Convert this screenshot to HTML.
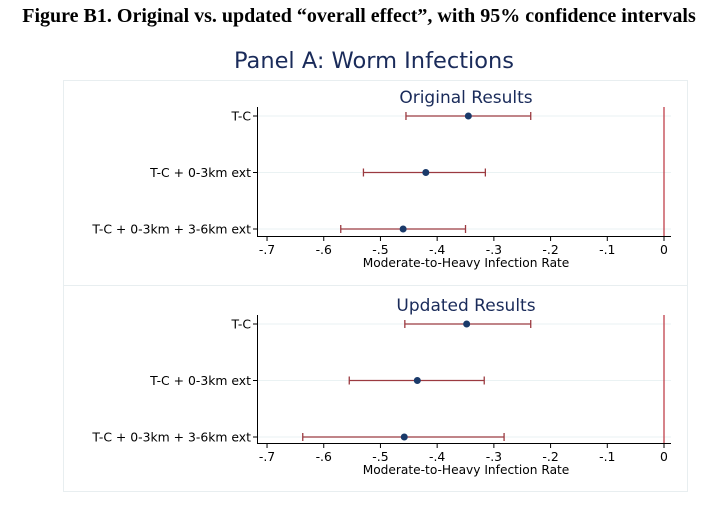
<!DOCTYPE html>
<html><head><meta charset="utf-8"><style>
body{margin:0;background:#fff;width:728px;height:510px;overflow:hidden}
svg text{font-family:"DejaVu Sans","Liberation Sans",sans-serif}
</style></head><body>
<svg width="728" height="510">
<text x="359" y="22" text-anchor="middle" style="font-family:'Liberation Serif',serif;font-weight:bold;font-size:20px">Figure B1. Original vs. updated “overall effect”, with 95% confidence intervals</text>
<text x="374" y="68" text-anchor="middle" fill="#1a2b5a" font-size="22.5">Panel A: Worm Infections</text>
<rect x="63.5" y="80.5" width="624" height="205" fill="none" stroke="#e8eef0"/>
<rect x="63.5" y="285.5" width="624" height="206" fill="none" stroke="#e8eef0"/>
<g id="charts"></g>
</svg>
<script>
const categories=["T-C","T-C + 0-3km ext","T-C + 0-3km + 3-6km ext"];
const origPoint=[-0.345,-0.42,-0.46];
const origLow=[-0.455,-0.53,-0.57];
const origHigh=[-0.235,-0.315,-0.35];
const updPoint=[-0.348,-0.435,-0.458];
const updLow=[-0.457,-0.555,-0.637];
const updHigh=[-0.235,-0.317,-0.282];
const xTicks=[-0.7,-0.6,-0.5,-0.4,-0.3,-0.2,-0.1,0];
const xTickLabels=["-.7","-.6","-.5","-.4","-.3","-.2","-.1","0"];
const NS="http://www.w3.org/2000/svg";
const g=document.getElementById('charts');
function mk(t,a,p){const e=document.createElementNS(NS,t);for(const k in a)e.setAttribute(k,a[k]);(p||g).appendChild(e);return e;}
const xs=v=>664+(v-0)*567.1;
function panel(title,top,pt,lo,hi,key,axisY){
  const grp=mk('g',{});
  
  
  const t=mk('text',{x:466,y:top+5,'text-anchor':'middle',fill:'#1a2b5a','font-size':17},grp);t.textContent=title;
  
  
  const rowY=i=>top+18+i*56.5;
  categories.forEach((c,i)=>{
    const y=rowY(i);
    const gl=mk('line',{x1:258,x2:671,y1:y,y2:y,stroke:'#eaf2f3','stroke-width':1},grp);
    
    
    const tk=mk('line',{x1:253,x2:258,y1:y,y2:y,stroke:'#000'},grp);
    
    
    const lb=mk('text',{x:251,y:y+4.5,'text-anchor':'end','font-size':12.4},grp);lb.textContent=c;
    
    
  });
  const ref=mk('line',{x1:xs(0),x2:xs(0),y1:top+9,y2:axisY,stroke:'#c0404a','stroke-width':1.3},grp);
  
  
  mk('line',{x1:257.5,x2:257.5,y1:top+9,y2:axisY,stroke:'#000'},grp);
  const ax=mk('line',{x1:257,x2:671,y1:axisY+0.5,y2:axisY+0.5,stroke:'#000'},grp);
  
  
  xTicks.forEach((v,i)=>{
    const x=xs(v);
    mk('line',{x1:x,x2:x,y1:axisY,y2:axisY+5,stroke:'#000'},grp);
    const tl=mk('text',{x:x,y:axisY+18,'text-anchor':'middle','font-size':12.4},grp);tl.textContent=xTickLabels[i];
    
    
  });
  const at=mk('text',{x:466,y:axisY+31,'text-anchor':'middle','font-size':12.2},grp);at.textContent='Moderate-to-Heavy Infection Rate';
  
  
  categories.forEach((c,i)=>{
    const y=rowY(i);
    const ci=mk('g',{stroke:'#9b3a40','stroke-width':1.3},grp);
    
    
    mk('line',{x1:xs(lo[i]),x2:xs(hi[i]),y1:y,y2:y},ci);
    mk('line',{x1:xs(lo[i]),x2:xs(lo[i]),y1:y-4,y2:y+4},ci);
    mk('line',{x1:xs(hi[i]),x2:xs(hi[i]),y1:y-4,y2:y+4},ci);
    const p=mk('circle',{cx:xs(pt[i]),cy:y,r:3.5,fill:'#1a3a6a'},grp);
    
    
  });
}
panel('Original Results',98,origPoint,origLow,origHigh,'original',236);
panel('Updated Results',306,updPoint,updLow,updHigh,'updated',443);
</script>
</body></html>
